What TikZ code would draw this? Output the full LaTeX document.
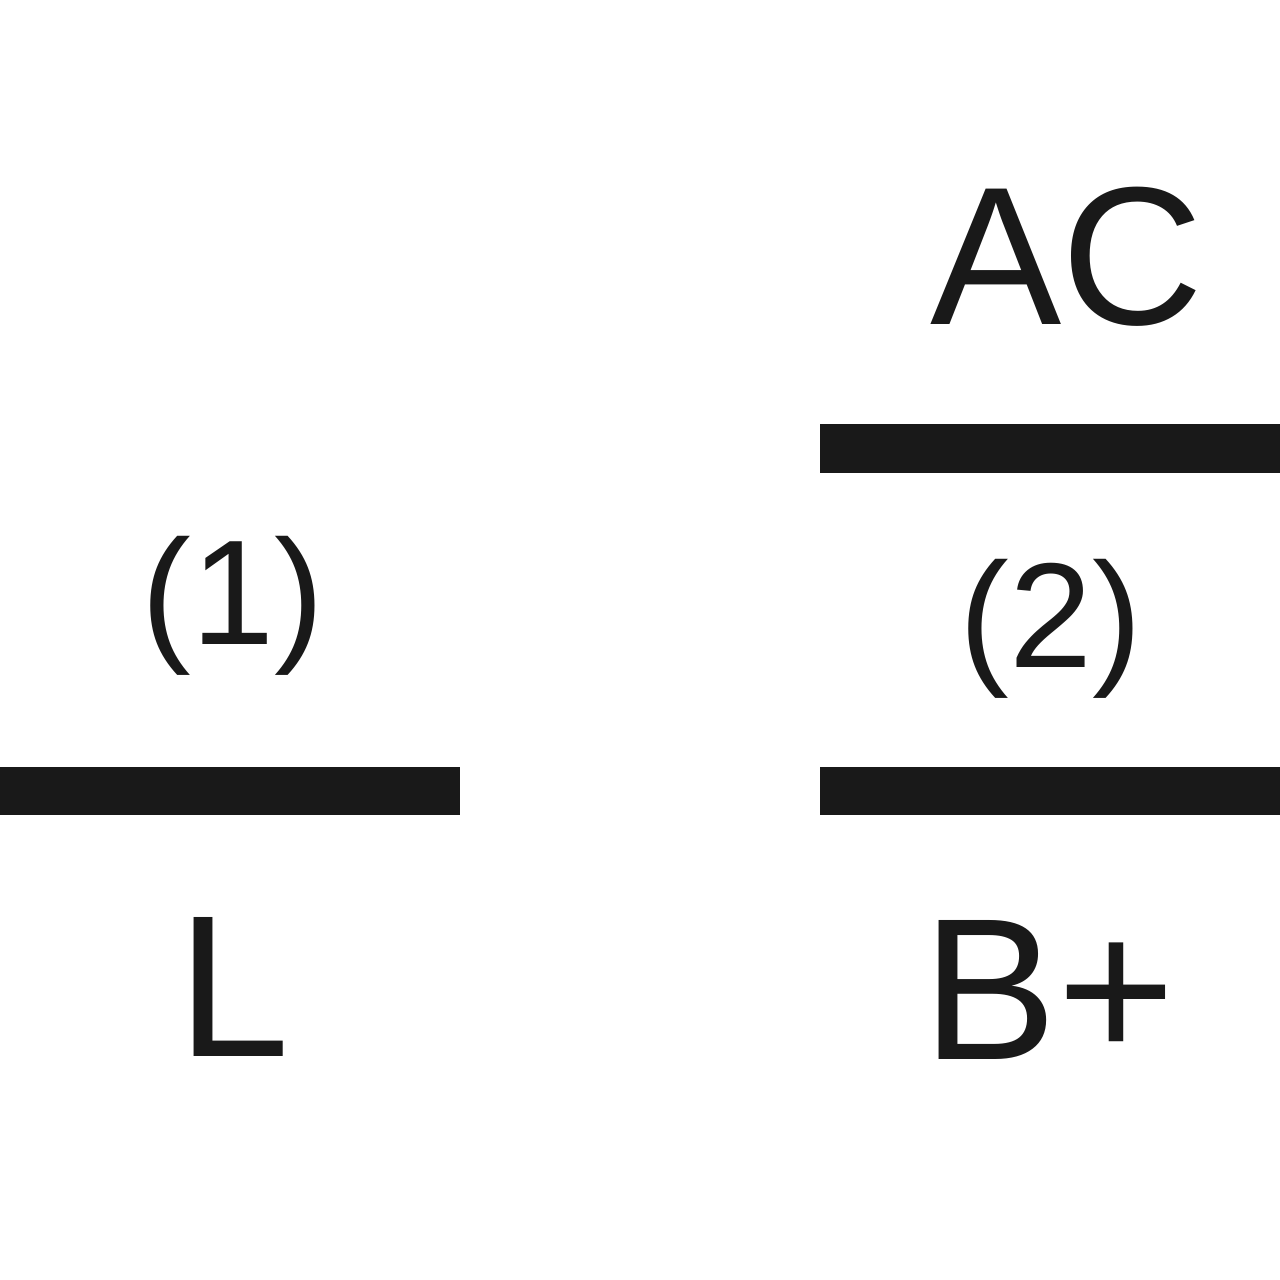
\documentclass[tikz,border=0pt]{standalone}
\usepackage{fontspec}
\setmainfont{Liberation Sans}
\tikzset{
  bigtxt/.style={inner sep=0pt, outer sep=0pt, anchor=base, text=black!90, font=\fontsize{56}{60}\selectfont},
  numtxt/.style={inner sep=0pt, outer sep=0pt, anchor=base, text=black!90, font=\fontsize{42.5}{48}\selectfont},
  bar/.style={fill=black!90}
}
\begin{document}
\begin{tikzpicture}
\useasboundingbox (0,0) rectangle (12.8,12.8);
\fill[white] (0,0) rectangle (12.8,12.8);
% bars
\fill[bar] (0,4.65) rectangle (4.60,5.13);
\fill[bar] (8.20,4.65) rectangle (12.8,5.13);
\fill[bar] (8.20,8.07) rectangle (12.8,8.56);
% labels
\node[bigtxt] (ac) at (10.67,9.55) {AC};
\node[numtxt] (n1) at (2.33,6.35) {(1)};
\node[numtxt] (n2) at (10.51,6.12) {(2)};
\node[bigtxt, font=\fontsize{57.5}{60}\selectfont] (l) at (2.34,2.23) {L};
\node[bigtxt, font=\fontsize{57.5}{60}\selectfont] (bp) at (10.49,2.20) {B+};
\end{tikzpicture}
\end{document}
